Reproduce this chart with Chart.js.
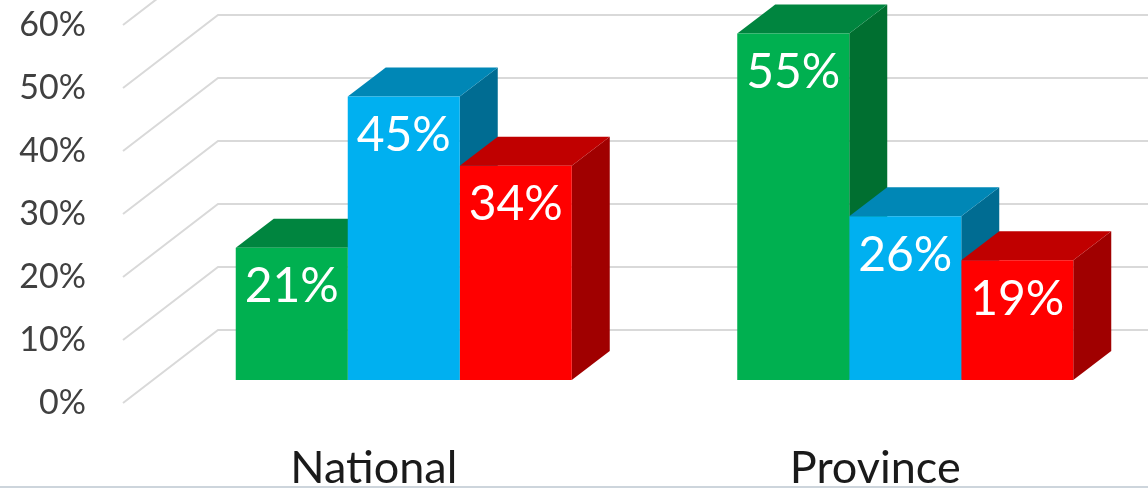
<!DOCTYPE html>
<html>
<head>
<meta charset="utf-8">
<script src="https://cdn.jsdelivr.net/npm/chart.js@4/dist/chart.umd.min.js"></script>
<style>
body{margin:0;background:#fff}
#wrap{width:1148px;height:486px;border-bottom:2px solid #cdd5dc}
</style>
</head>
<body>
<div id="wrap"><canvas id="c"></canvas></div>
<script>
const categories = ["National", "Province"]
const greenVals = [21, 55]
const blueVals = [45, 26]
const redVals = [34, 19]
const yTicks = [0, 10, 20, 30, 40, 50, 60]

// fake 3d: bar front sits back from the floor edge, then has some depth
const shift = {x: 30, y: -23}
const depth = {x: 38, y: -29}
const wall = {x: 95, y: -73}

const faces = [
  {front: "#00B050", top: "#00853F", side: "#006F30"},
  {front: "#00B0F0", top: "#0087B6", side: "#006C92"},
  {front: "#FF0000", top: "#C00000", side: "#A00000"}
]

function poly(ctx, pts, color) {
  ctx.fillStyle = color
  ctx.beginPath()
  ctx.moveTo(pts[0][0], pts[0][1])
  for (let k = 1; k < pts.length; k++) ctx.lineTo(pts[k][0], pts[k][1])
  ctx.closePath()
  ctx.fill()
}

const bars3d = {
  id: "bars3d",
  beforeDatasetsDraw(chart) {
    const ctx = chart.ctx, y = chart.scales.y, a = chart.chartArea
    // floor lines + back wall grid
    ctx.save()
    ctx.strokeStyle = "#D9D9D9"
    ctx.lineWidth = 2
    yTicks.forEach(v => {
      const py = y.getPixelForValue(v)
      ctx.beginPath()
      ctx.moveTo(a.left, py)
      ctx.lineTo(a.left + wall.x, py + wall.y)
      ctx.lineTo(chart.width, py + wall.y)
      ctx.stroke()
    })
    // sides and tops first, the fronts come on top of them
    ctx.translate(shift.x, shift.y)
    chart.data.datasets.forEach((ds, i) => {
      const f = faces[i]
      chart.getDatasetMeta(i).data.forEach(b => {
        const l = b.x - b.width / 2, r = b.x + b.width / 2, t = b.y, bt = b.base
        poly(ctx, [[r, bt], [r, t], [r + depth.x, t + depth.y], [r + depth.x, bt + depth.y]], f.side)
        poly(ctx, [[l, t], [r, t], [r + depth.x, t + depth.y], [l + depth.x, t + depth.y]], f.top)
      })
    })
    ctx.restore()
  },
  beforeDatasetDraw(chart) {
    chart.ctx.save()
    chart.ctx.translate(shift.x, shift.y)
  },
  afterDatasetDraw(chart) {
    chart.ctx.restore()
  },
  afterDatasetsDraw(chart) {
    // value labels on the front faces
    const ctx = chart.ctx
    ctx.save()
    ctx.fillStyle = "#fff"
    ctx.font = "48px Lato"
    ctx.textAlign = "center"
    ctx.textBaseline = "middle"
    chart.data.datasets.forEach((ds, i) => {
      chart.getDatasetMeta(i).data.forEach((b, j) => {
        ctx.fillText(ds.data[j] + "%", b.x + shift.x, b.y + shift.y + 39)
      })
    })
    ctx.restore()
  }
}

new Chart(document.getElementById("c"), {
  type: "bar",
  data: {
    labels: categories,
    datasets: [
      {data: greenVals, backgroundColor: faces[0].front},
      {data: blueVals, backgroundColor: faces[1].front},
      {data: redVals, backgroundColor: faces[2].front}
    ]
  },
  options: {
    responsive: true,
    maintainAspectRatio: false,
    animation: false,
    events: [],
    datasets: {bar: {categoryPercentage: 0.67, barPercentage: 1.0, borderWidth: 0, clip: false}},
    layout: {padding: {top: 25, right: 22, left: 0, bottom: 0}},
    plugins: {legend: {display: false}, tooltip: {enabled: false}},
    scales: {
      x: {
        grid: {display: false, drawTicks: false},
        border: {display: false},
        ticks: {color: "#1a1a1a", font: {family: "Lato", size: 45}, padding: 38},
        afterFit(s) { s.height = 83 }
      },
      y: {
        min: 0,
        max: 60,
        grid: {display: false, drawTicks: true, tickLength: 37},
        border: {display: false},
        ticks: {
          stepSize: 10,
          color: "#404040",
          font: {family: "Lato", size: 34},
          padding: 0,
          callback: v => v + "%"
        },
        afterFit(s) { s.width = 123 }
      }
    }
  },
  plugins: [bars3d]
})
</script>
</body>
</html>
